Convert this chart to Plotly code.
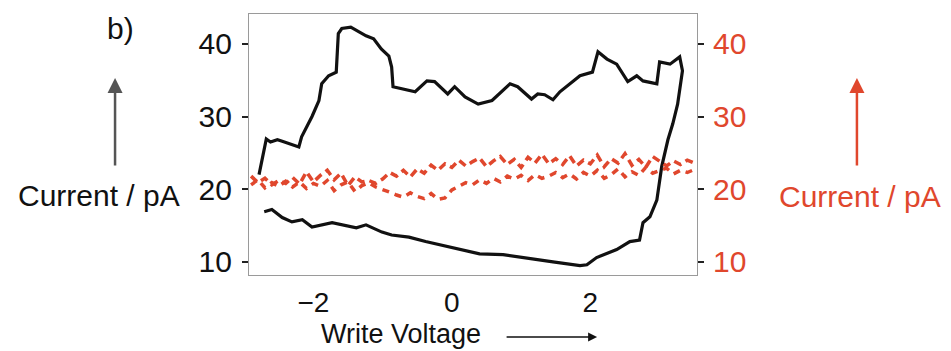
import plotly.graph_objects as go

# Black hysteresis loop (left axis): upper branch left->right, then lower branch right->left
loop_v = [-2.785, -2.68, -2.62, -2.52, -2.45, -2.35, -2.21, -2.17, -2.02, -1.92, -1.88, -1.78,
          -1.67, -1.64, -1.59, -1.46, -1.34, -1.24, -1.13, -1.02, -0.91, -0.87, -0.85, -0.76,
          -0.68, -0.53, -0.36, -0.25, -0.06, 0.04, 0.19, 0.38, 0.58, 0.84, 0.95, 1.15, 1.24,
          1.34, 1.46, 1.56, 1.85, 2.03, 2.11, 2.24, 2.38, 2.54, 2.67, 2.76, 2.96, 3.00, 3.15,
          3.29, 3.33,
          3.26, 3.19, 3.12, 3.03, 2.96, 2.86, 2.76, 2.71, 2.57, 2.38, 2.09, 1.95, 1.85, 1.46,
          0.98, 0.74, 0.40, 0.26, -0.04, -0.38, -0.62, -0.87, -1.01, -1.24, -1.38, -1.73,
          -2.02, -2.16, -2.31, -2.45, -2.60, -2.71]
loop_i = [22.0, 26.9, 26.5, 26.8, 26.6, 26.3, 25.8, 27.2, 30.0, 32.2, 34.5, 35.6,
          36.1, 41.4, 42.1, 42.3, 41.7, 41.1, 40.7, 39.3, 38.3, 36.8, 34.1, 33.9,
          33.8, 33.4, 34.9, 34.8, 33.1, 34.1, 32.7, 31.7, 32.2, 34.5, 34.1, 32.4, 33.1,
          33.0, 32.3, 33.4, 35.6, 36.1, 38.9, 37.9, 37.2, 34.8, 35.6, 34.9, 34.5, 37.5, 37.2,
          38.2, 36.3,
          31.7, 29.0, 26.8, 23.1, 18.5, 16.2, 15.4, 13.0, 12.8, 11.7, 10.6, 9.6, 9.5, 10.0,
          10.7, 11.0, 11.1, 11.4, 12.1, 12.8, 13.4, 13.7, 14.1, 15.1, 14.7, 15.4,
          14.8, 15.8, 15.5, 16.1, 17.2, 16.9]

# Red dashed traces (right axis)
red_v = [-2.9, -2.8, -2.7, -2.6, -2.5, -2.4, -2.3, -2.2, -2.1, -2.0, -1.9, -1.8, -1.7,
         -1.6, -1.5, -1.4, -1.3, -1.2, -1.1, -1.0, -0.9, -0.8, -0.7, -0.6, -0.5, -0.4,
         -0.3, -0.2, -0.1, 0.0, 0.1, 0.2, 0.3, 0.4, 0.5, 0.6, 0.7, 0.8, 0.9, 1.0, 1.1,
         1.2, 1.3, 1.4, 1.5, 1.6, 1.7, 1.8, 1.9, 2.0, 2.1, 2.2, 2.3, 2.4, 2.5, 2.6, 2.7,
         2.8, 2.9, 3.0, 3.1, 3.2, 3.3, 3.4, 3.5]
red_upper = [21.8, 20.9, 21.5, 20.6, 21.2, 20.8, 21.6, 20.7, 22.4, 21.0, 21.9, 22.6, 21.3,
             22.2, 20.5, 21.7, 21.0, 21.2, 20.8, 21.4,
             22.3, 21.8, 22.6, 21.7, 22.8, 22.2, 23.3, 22.6, 23.5, 23.0,
             24.0, 23.2, 23.8, 24.3, 23.1, 23.9, 24.5, 23.4, 24.1, 23.0, 24.4, 23.6, 24.8,
             23.5, 24.2,
             23.4, 24.6, 23.2, 24.0, 23.5, 24.7, 23.1, 24.2, 23.6, 24.9, 23.3, 24.1, 23.0,
             24.5, 23.8, 23.2, 23.9, 23.4, 24.0, 23.6]
red_lower = [20.6, 21.3, 20.2, 20.9, 20.4, 21.1, 20.3, 21.0, 20.1, 20.8, 20.4, 21.2, 19.8,
             20.6, 21.0, 19.7, 20.5, 20.9, 20.3, 20.0,
             19.6, 19.2, 18.9, 19.5, 19.0, 18.7, 19.4, 18.6, 18.8, 19.9,
             20.4, 20.9, 20.6, 21.3, 20.8, 21.5, 21.0, 21.8, 21.4, 21.9, 21.2, 22.0, 21.5,
             21.8, 22.3,
             21.6, 22.1, 21.4, 22.3, 21.8, 22.6, 21.5, 22.0, 22.8, 21.7, 22.4, 21.9, 23.0,
             22.2, 22.5, 22.9, 22.1, 22.6, 22.3, 22.7]

x_ticks = [-2, 0, 2]
y_ticks = [10, 20, 30, 40]

RED = "#e0472d"
FONT = "Liberation Sans, Arial, sans-serif"
FS = 30

fig = go.Figure()
fig.add_trace(go.Scatter(x=red_v, y=red_upper, mode="lines", yaxis="y2",
                         line=dict(color=RED, width=3.5, dash="8px,5px"), showlegend=False))
fig.add_trace(go.Scatter(x=red_v, y=red_lower, mode="lines", yaxis="y2",
                         line=dict(color=RED, width=3.5, dash="7px,6px"), showlegend=False))
fig.add_trace(go.Scatter(x=loop_v, y=loop_i, mode="lines",
                         line=dict(color="#111111", width=3.2), showlegend=False))

fig.update_layout(
    width=951, height=351,
    margin=dict(l=249, r=254, t=14, b=76),
    paper_bgcolor="white", plot_bgcolor="white",
    font=dict(family=FONT, size=FS, color="#111111"),
    xaxis=dict(range=[-2.93, 3.54], tickvals=x_ticks, ticktext=["\u22122", "0", "2"],
               showgrid=False, zeroline=False, showline=True, mirror=True,
               linecolor="#9a9a9a", linewidth=1.2, ticks="", ticklabelstandoff=2,
               tickfont=dict(size=28)),
    yaxis=dict(range=[8.2, 44.1], tickvals=y_ticks, showgrid=False, zeroline=False,
               showline=True, mirror=True, linecolor="#9a9a9a", linewidth=1.2,
               ticks="outside", ticklen=6, tickwidth=1.5, tickcolor="#222",
               ticklabelstandoff=4),
    yaxis2=dict(range=[8.2, 44.1], tickvals=y_ticks, overlaying="y", side="right",
                showgrid=False, zeroline=False, showline=False,
                ticks="outside", ticklen=6, tickwidth=1.5, tickcolor="#222",
                tickfont=dict(color=RED, size=FS), ticklabelstandoff=3),
)

ann = [
    dict(x=-0.286, y=0.946, text="b)", font=dict(size=FS, color="#111")),
    dict(x=-0.335, y=0.3065, text="Current / pA", font=dict(size=FS, color="#111")),
    dict(x=1.364, y=0.299, text="Current / pA", font=dict(size=FS, color=RED)),
    dict(x=0.339, y=-0.226, text="Write Voltage", font=dict(size=27, color="#111")),
]
for a in ann:
    fig.add_annotation(xref="paper", yref="paper", showarrow=False,
                       xanchor="center", yanchor="middle", **a)

# arrows
fig.add_annotation(xref="paper", yref="paper", x=-0.299, y=0.755, ax=0, ay=89,
                   text="", showarrow=True, arrowhead=2, arrowsize=1.2, arrowwidth=2.5,
                   arrowcolor="#555555")
fig.add_annotation(xref="paper", yref="paper", x=1.357, y=0.755, ax=0, ay=89,
                   text="", showarrow=True, arrowhead=2, arrowsize=1.2, arrowwidth=2.5,
                   arrowcolor=RED)
fig.add_annotation(xref="paper", yref="paper", x=0.777, y=-0.2375, ax=-92, ay=0,
                   text="", showarrow=True, arrowhead=2, arrowsize=1.2, arrowwidth=1.5,
                   arrowcolor="#111111")

fig.write_html("out.html")
